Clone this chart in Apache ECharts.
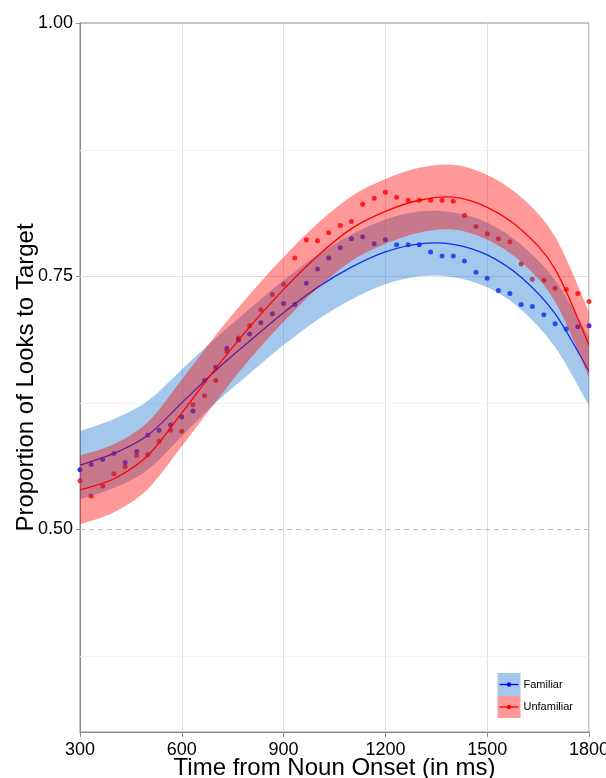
<!DOCTYPE html>
<html><head><meta charset="utf-8">
<script src="https://cdn.jsdelivr.net/npm/echarts@6/dist/echarts.min.js"></script>
<style>html,body{margin:0;padding:0;background:#fff}#chart{width:606px;height:778px}</style>
</head><body><div id="chart"></div>
<script>
// Observed proportions per 33 ms bin
const binTimes = [300,333,367,400,433,467,500,533,567,600,633,667,700,733,767,800,833,867,900,933,967,1000,1033,1067,1100,1133,1167,1200,1233,1267,1300,1333,1367,1400,1433,1467,1500,1533,1567,1600,1633,1667,1700,1733,1767,1800];
const familiarPoints = [0.559,0.564,0.569,0.575,0.566,0.577,0.593,0.598,0.603,0.611,0.617,0.647,0.660,0.679,0.687,0.693,0.704,0.713,0.723,0.722,0.743,0.757,0.768,0.778,0.787,0.789,0.782,0.786,0.781,0.781,0.781,0.774,0.770,0.770,0.765,0.754,0.748,0.736,0.733,0.722,0.720,0.712,0.703,0.698,0.700,0.701];
const unfamiliarPoints = [0.548,0.533,0.543,0.555,0.562,0.573,0.574,0.587,0.598,0.597,0.623,0.632,0.647,0.676,0.689,0.701,0.717,0.732,0.742,0.768,0.786,0.785,0.793,0.800,0.804,0.821,0.827,0.833,0.828,0.825,0.825,0.825,0.825,0.824,0.810,0.799,0.792,0.787,0.784,0.762,0.747,0.746,0.738,0.737,0.733,0.725];

// Model fits and confidence ribbons
const fitTimes = [300,400,500,600,700,800,900,1000,1100,1200,1300,1400,1500,1600,1700,1800];
const familiarFit   = [0.5635,0.575,0.593,0.625,0.657,0.686,0.714,0.739,0.759,0.774,0.782,0.7815,0.771,0.749,0.713,0.656];
const familiarLower = [0.530,0.541,0.559,0.592,0.625,0.654,0.682,0.707,0.727,0.742,0.750,0.749,0.739,0.717,0.680,0.622];
const familiarUpper = [0.597,0.609,0.627,0.658,0.689,0.718,0.746,0.771,0.791,0.806,0.814,0.813,0.803,0.781,0.746,0.690];
const unfamiliarFit   = [0.539,0.550,0.573,0.615,0.659,0.700,0.737,0.770,0.797,0.814,0.825,0.828,0.818,0.796,0.757,0.682];
const unfamiliarLower = [0.505,0.517,0.540,0.582,0.626,0.668,0.705,0.738,0.765,0.782,0.793,0.796,0.786,0.764,0.725,0.650];
const unfamiliarUpper = [0.573,0.584,0.606,0.648,0.692,0.732,0.769,0.802,0.829,0.846,0.857,0.860,0.850,0.828,0.789,0.715];

const xTicks = [300,600,900,1200,1500,1800];
const yTickValues = [0.5,0.75,1.0];
const minorGridValues = [0.375,0.625,0.875];
const majorGridValues = [0.75];
const referenceValue = 0.5;
const seriesNames = ['Familiar','Unfamiliar'];

const FONT = '"Liberation Sans", Arial, Helvetica, sans-serif';
const BLUE = '#0000ff', RED = '#ff0000';
const BLUE_BAND = 'rgba(28,117,208,0.4)', RED_BAND = 'rgba(255,0,0,0.4)';

const pairs = (xs, ys) => xs.map((x, i) => [x, ys[i]]);

function splineSegs(pts) {
  let d = '';
  for (let i = 0; i < pts.length - 1; i++) {
    const p0 = pts[i - 1] || pts[i], p1 = pts[i], p2 = pts[i + 1], p3 = pts[i + 2] || pts[i + 1];
    const c1 = [p1[0] + (p2[0] - p0[0]) / 6, p1[1] + (p2[1] - p0[1]) / 6];
    const c2 = [p2[0] - (p3[0] - p1[0]) / 6, p2[1] - (p3[1] - p1[1]) / 6];
    d += ' C' + c1[0] + ',' + c1[1] + ' ' + c2[0] + ',' + c2[1] + ' ' + p2[0] + ',' + p2[1];
  }
  return d;
}

function bandSeries(lower, upper, color, z) {
  return {
    type: 'custom', z: z, silent: true, clip: true,
    data: [[fitTimes[0], lower[0]]],
    renderItem: (params, api) => {
      const up = fitTimes.map((t, i) => api.coord([t, upper[i]]));
      const lo = fitTimes.map((t, i) => api.coord([t, lower[i]])).reverse();
      const d = 'M' + up[0][0] + ',' + up[0][1] + splineSegs(up) +
        ' L' + lo[0][0] + ',' + lo[0][1] + splineSegs(lo) + ' Z';
      return {type: 'path', shape: {pathData: d}, style: {fill: color, stroke: null}};
    }
  };
}

function fitSeries(vals, color, z) {
  return {
    type: 'custom', z: z, silent: true, clip: true,
    data: [[fitTimes[0], vals[0]]],
    renderItem: (params, api) => {
      const p = fitTimes.map((t, i) => api.coord([t, vals[i]]));
      const d = 'M' + p[0][0] + ',' + p[0][1] + splineSegs(p);
      return {type: 'path', shape: {pathData: d}, style: {fill: 'none', stroke: color, lineWidth: 1.3}};
    }
  };
}

const gridLineData = [];
minorGridValues.forEach(v => gridLineData.push([v, 0]));
majorGridValues.forEach(v => gridLineData.push([v, 1]));
gridLineData.push([referenceValue, 2]);

const chart = echarts.init(document.getElementById('chart'), null, {renderer: 'canvas'});

const option = {
  animation: false,
  backgroundColor: '#fff',
  grid: {left: 80, right: 17, top: 23, bottom: 46, show: true, borderColor: '#8a8a8a', borderWidth: 1,
    backgroundColor: '#fff', containLabel: false, outerBoundsMode: 'none'},
  xAxis: {
    type: 'value', min: xTicks[0], max: xTicks[xTicks.length - 1], interval: 300,
    axisLine: {show: true, lineStyle: {color: '#8a8a8a'}},
    axisTick: {show: true, length: 5, lineStyle: {color: '#8a8a8a'}},
    axisLabel: {color: '#000', fontSize: 18, fontFamily: FONT, margin: 9, showMinLabel: true, showMaxLabel: true,
      formatter: v => String(v)},
    splitLine: {show: true, lineStyle: {color: '#e2e2e2', width: 1}},
    name: 'Time from Noun Onset (in ms)', nameLocation: 'middle', nameGap: 24, nameMoveOverlap: false,
    nameTextStyle: {color: '#000', fontSize: 24, fontFamily: FONT}
  },
  yAxis: {
    type: 'value', min: 0.3, max: 1.0,
    axisLine: {show: true, lineStyle: {color: '#8a8a8a'}},
    axisTick: {show: true, length: 4, customValues: yTickValues, lineStyle: {color: '#8a8a8a'}},
    axisLabel: {customValues: yTickValues, color: '#000', fontSize: 18, fontFamily: FONT, margin: 7,
      formatter: v => Number(v).toFixed(2)},
    splitLine: {show: false},
    name: 'Proportion of Looks to Target', nameLocation: 'middle', nameGap: 42, nameMoveOverlap: false,
    nameTextStyle: {color: '#000', fontSize: 24, fontFamily: FONT}
  },
  series: [
    {type: 'custom', z: 1, silent: true, data: gridLineData,
      renderItem: (params, api) => {
        const v = api.value(0), kind = api.value(1);
        const a = api.coord([xTicks[0], v]), b = api.coord([xTicks[xTicks.length - 1], v]);
        const styles = [
          {stroke: '#f2f2f2', lineWidth: 1},
          {stroke: '#e2e2e2', lineWidth: 1},
          {stroke: '#bdbdbd', lineWidth: 1, lineDash: [5, 4]}
        ];
        return {type: 'line', shape: {x1: a[0], y1: Math.round(a[1]) + 0.5, x2: b[0], y2: Math.round(b[1]) + 0.5}, style: styles[kind]};
      }},
    {type: 'scatter', name: seriesNames[1] + ' obs', data: pairs(binTimes, unfamiliarPoints), symbolSize: 5,
      itemStyle: {color: RED}, z: 2, silent: true},
    {type: 'scatter', name: seriesNames[0] + ' obs', data: pairs(binTimes, familiarPoints), symbolSize: 5,
      itemStyle: {color: BLUE}, z: 3, silent: true},
    fitSeries(familiarFit, BLUE, 4),
    bandSeries(familiarLower, familiarUpper, BLUE_BAND, 5),
    bandSeries(unfamiliarLower, unfamiliarUpper, RED_BAND, 6),
    fitSeries(unfamiliarFit, RED, 7)
  ],
  graphic: [
    {type: 'group', left: 497, top: 673, z: 100, children: [
      {type: 'rect', shape: {x: 0, y: 0, width: 23, height: 23}, style: {fill: BLUE_BAND}},
      {type: 'line', shape: {x1: 2, y1: 11.5, x2: 21, y2: 11.5}, style: {stroke: BLUE, lineWidth: 1.3}},
      {type: 'circle', shape: {cx: 11.5, cy: 11.5, r: 2.2}, style: {fill: BLUE}},
      {type: 'text', x: 26, y: 11.5, style: {text: seriesNames[0], fill: '#000', font: '11px ' + FONT, verticalAlign: 'middle'}},
      {type: 'rect', shape: {x: 0, y: 23, width: 23, height: 22}, style: {fill: RED_BAND}},
      {type: 'line', shape: {x1: 2, y1: 34, x2: 21, y2: 34}, style: {stroke: RED, lineWidth: 1.3}},
      {type: 'circle', shape: {cx: 11.5, cy: 34, r: 2.2}, style: {fill: RED}},
      {type: 'text', x: 26, y: 34, style: {text: seriesNames[1], fill: '#000', font: '11px ' + FONT, verticalAlign: 'middle'}}
    ]}
  ]
};
chart.setOption(option);
</script>
</body></html>
